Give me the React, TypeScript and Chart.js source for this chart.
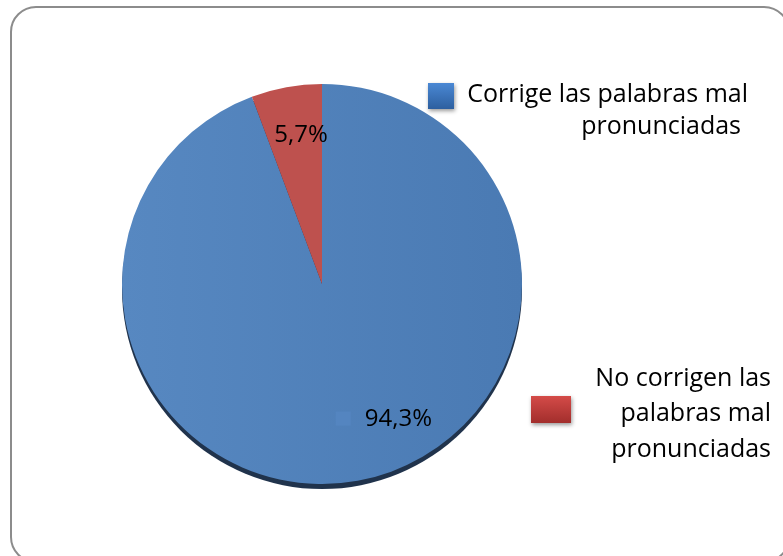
import React, { useEffect, useRef } from 'react';
import { Chart, ArcElement, PieController } from 'chart.js';

Chart.register(ArcElement, PieController);

const categories = [
  'Corrige las palabras mal pronunciadas',
  'No corrigen las palabras mal pronunciadas',
];
const values = [94.3, 5.7];
const valueLabels = ['94,3%', '5,7%'];
const legendLines = [
  ['Corrige las palabras mal', 'pronunciadas'],
  ['No corrigen las', 'palabras mal', 'pronunciadas'],
];

const FONT = "'Open Sans', sans-serif";

const shadowPlugin = {
  id: 'pieShadow',
  beforeDatasetsDraw(chart: any) {
    const arc = chart.getDatasetMeta(0).data[0];
    if (!arc) return;
    const { x, y, outerRadius } = arc.getProps(['x', 'y', 'outerRadius'], true);
    const ctx = chart.ctx;
    ctx.save();
    ctx.beginPath();
    ctx.arc(x, y + 5, outerRadius, 0, Math.PI * 2);
    ctx.fillStyle = '#20334c';
    ctx.fill();
    ctx.restore();
  },
};

const labelPlugin = {
  id: 'valueLabels',
  afterDatasetsDraw(chart: any) {
    const ctx = chart.ctx;
    const meta = chart.getDatasetMeta(0);
    const offsets = [
      [35, -14],
      [6, 0],
    ];
    meta.data.forEach((arc: any, i: number) => {
      const { x, y, startAngle, endAngle, outerRadius } = arc.getProps(
        ['x', 'y', 'startAngle', 'endAngle', 'outerRadius'],
        true
      );
      const mid = (startAngle + endAngle) / 2;
      const d = outerRadius * 0.755;
      const cx = x + Math.cos(mid) * d + offsets[i][0];
      const cy = y + Math.sin(mid) * d + offsets[i][1];
      ctx.save();
      ctx.font = `24px ${FONT}`;
      ctx.fillStyle = '#000';
      ctx.textBaseline = 'middle';
      const text = valueLabels[i];
      const tw = ctx.measureText(text).width;
      if (i === 0) {
        const groupW = 29 + tw;
        const left = cx - groupW / 2;
        ctx.fillStyle = '#5485c0';
        ctx.fillRect(left, cy - 7, 15, 14);
        ctx.fillStyle = '#000';
        ctx.textAlign = 'left';
        ctx.fillText(text, left + 29, cy + 1);
      } else {
        ctx.textAlign = 'center';
        ctx.fillText(text, cx, cy);
      }
      ctx.restore();
    });
  },
};

const legendPlugin = {
  id: 'customLegend',
  afterDraw(chart: any) {
    const ctx = chart.ctx;
    const keys = [
      { x: 428, y: 83, w: 26, h: 26, top: '#4a88d4', bottom: '#2d5f9f' },
      { x: 531, y: 396, w: 40, h: 27, top: '#d44b48', bottom: '#a22e2c' },
    ];
    const textRight = [
      [748, 741],
      [771, 771, 771],
    ];
    const baselines = [
      [102, 134],
      [386, 421, 457],
    ];
    keys.forEach((k, i) => {
      ctx.save();
      const g = ctx.createLinearGradient(0, k.y, 0, k.y + k.h);
      g.addColorStop(0, k.top);
      g.addColorStop(1, k.bottom);
      ctx.shadowColor = 'rgba(0,0,0,0.4)';
      ctx.shadowBlur = 4;
      ctx.shadowOffsetY = 2;
      ctx.shadowOffsetX = 1;
      ctx.fillStyle = g;
      ctx.fillRect(k.x, k.y, k.w, k.h);
      ctx.restore();

      ctx.save();
      ctx.font = `25px ${FONT}`;
      ctx.fillStyle = '#000';
      ctx.textAlign = 'right';
      ctx.textBaseline = 'alphabetic';
      legendLines[i].forEach((line, j) => {
        ctx.fillText(line, textRight[i][j], baselines[i][j]);
      });
      ctx.restore();
    });
  },
};

export default function App() {
  const ref = useRef<HTMLCanvasElement | null>(null);

  useEffect(() => {
    if (!ref.current) return;
    const chart = new Chart(ref.current, {
      type: 'pie',
      data: {
        labels: categories,
        datasets: [
          {
            data: values,
            backgroundColor: (c: any) => {
              const area = c.chart.chartArea;
              if (c.dataIndex === 1) return '#be514e';
              if (!area) return '#4f81bd';
              const g = c.chart.ctx.createLinearGradient(area.left, 0, area.right, 0);
              g.addColorStop(0, '#5788c1');
              g.addColorStop(1, '#4a7ab3');
              return g;
            },
            borderWidth: 0,
          },
        ],
      },
      options: {
        responsive: false,
        animation: false,
        layout: { padding: { left: 122, right: 261, top: 84, bottom: 72 } },
        plugins: {
          legend: { display: false },
          tooltip: { enabled: false },
        },
      },
      plugins: [shadowPlugin, labelPlugin, legendPlugin],
    });
    return () => chart.destroy();
  }, []);

  return (
    <div
      style={{
        position: 'fixed',
        left: 0,
        top: 0,
        width: 783,
        height: 556,
        overflow: 'hidden',
        background: '#fff',
      }}
    >
      <div
        style={{
          position: 'absolute',
          left: 10,
          top: 6,
          width: 780,
          height: 557,
          boxSizing: 'border-box',
          border: '2px solid #8c8c8c',
          borderRadius: 26,
        }}
      />
      <canvas
        ref={ref}
        width={783}
        height={556}
        style={{ position: 'absolute', left: 0, top: 0, width: 783, height: 556 }}
      />
    </div>
  );
}
